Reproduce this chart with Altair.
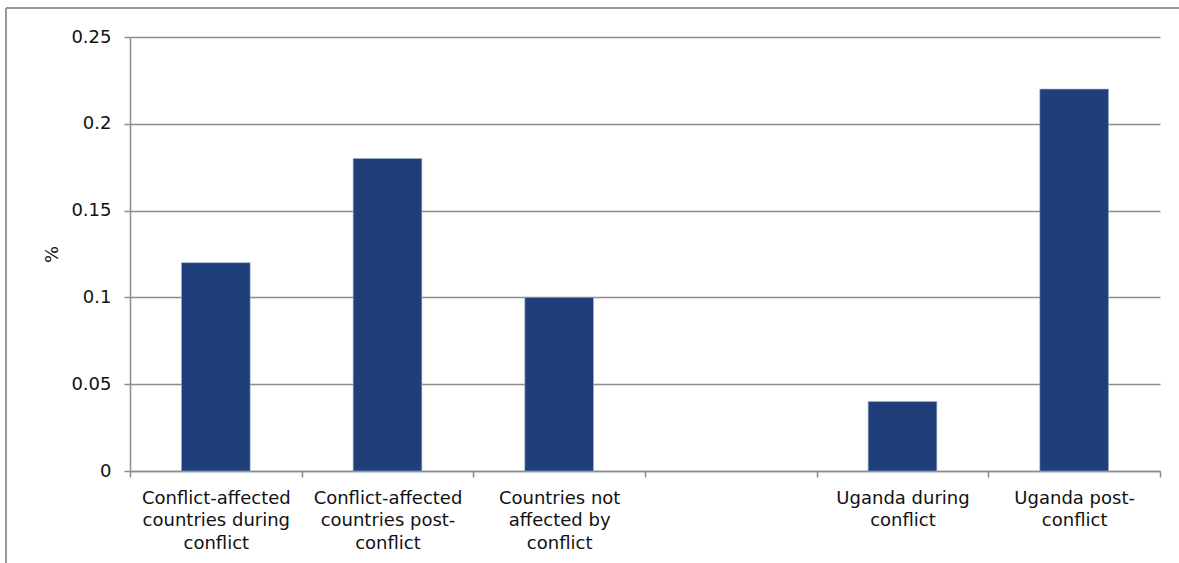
import altair as alt
import pandas as pd

categories = [
    "Conflict-affected|countries during|conflict",
    "Conflict-affected|countries post-|conflict",
    "Countries not|affected by|conflict",
    " ",
    "Uganda during|conflict",
    "Uganda post-|conflict",
]
values = [0.12, 0.18, 0.10, None, 0.04, 0.22]

df = pd.DataFrame({"cat": categories, "val": values}).dropna()

FONT = "DejaVu Sans"
GRID = "#8c8c8c"
W, H = 1030, 434

bars = alt.Chart(df).mark_bar(
    color="#1F3F7A", stroke="#9fb0cf", strokeWidth=0.6, width=alt.RelativeBandSize(0.4)
).encode(
    x=alt.X(
        "cat:N",
        sort=categories,
        scale=alt.Scale(domain=categories, paddingInner=0, paddingOuter=0),
        axis=alt.Axis(
            title=None,
            labelAngle=0,
            labelExpr="split(datum.label, '|')",
            labelAlign="center",
            labelBaseline="top",
            labelLineHeight=22.5,
            labelLimit=300,
            labelPadding=12,
            tickBand="extent",
            tickSize=6,
            tickColor=GRID,
            domainColor=GRID,
            domainWidth=1.5,
            tickWidth=1.5,
            grid=False,
        ),
    ),
    y=alt.Y(
        "val:Q",
        scale=alt.Scale(domain=[0, 0.25], nice=False),
        axis=alt.Axis(
            title="%",
            titleAngle=-90,
            titleX=-78,
            titleY=H / 2,
            titleAlign="center",
            titleBaseline="middle",
            titleFontWeight="normal",
            titleFontSize=18,
            values=[0, 0.05, 0.1, 0.15, 0.2, 0.25],
            format=".2~f",
            tickSize=6,
            labelPadding=13,
            tickColor=GRID,
            domainColor=GRID,
            gridColor=GRID,
            gridWidth=1.5,
            domainWidth=1.5,
            tickWidth=1.5,
        ),
    ),
)

frame_left = alt.Chart(df).mark_rule(color="#999999", strokeWidth=1.5).encode(
    x=alt.value(-124), y=alt.value(-29), y2=alt.value(H + 200)
)
frame_top = alt.Chart(df).mark_rule(color="#999999", strokeWidth=1.5).encode(
    x=alt.value(-124), x2=alt.value(W + 200), y=alt.value(-29)
)

chart = (
    alt.layer(bars, frame_left, frame_top)
    .properties(
        width=W,
        height=H,
        background="white",
        autosize=alt.AutoSizeParams(type="none"),
        padding={"left": 130, "top": 37, "right": 19, "bottom": 92},
    )
    .configure_view(stroke=None)
    .configure_axis(
        labelFont=FONT,
        titleFont=FONT,
        labelFontSize=18,
        titleFontSize=18,
        labelColor="#111111",
        titleColor="#111111",
    )
)

chart.save("out.html", embed_options={"renderer": "svg", "actions": False})
